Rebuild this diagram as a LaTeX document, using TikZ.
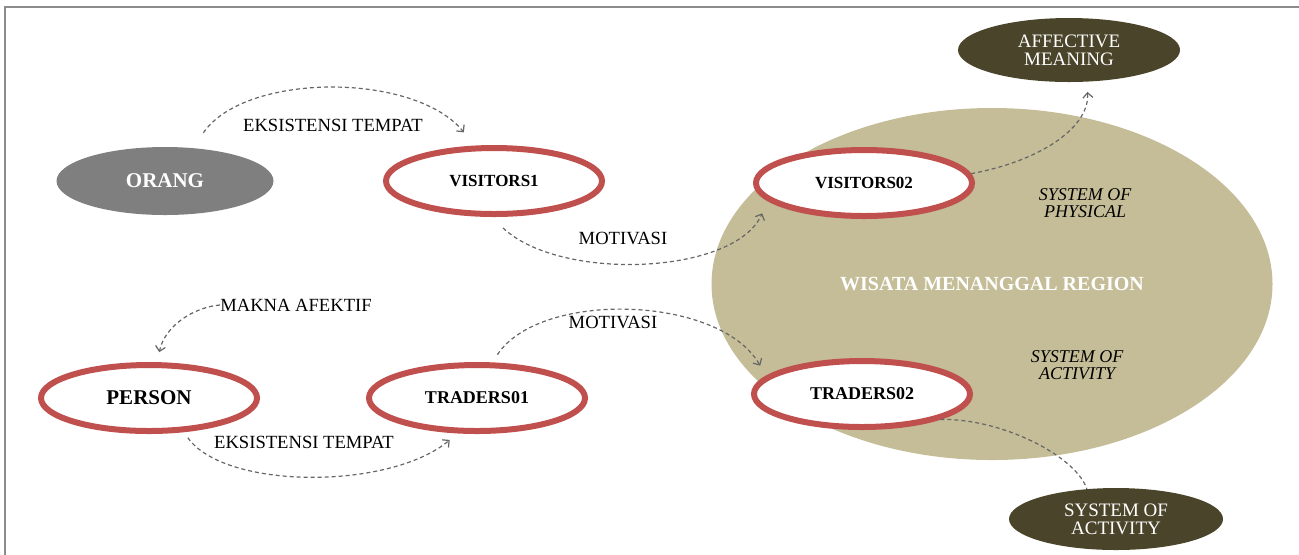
\documentclass[tikz,border=0pt]{standalone}
\usepackage{fontspec}
\setmainfont{Liberation Serif}
\usetikzlibrary{arrows.meta,shapes.geometric}
\definecolor{redline}{HTML}{C0504D}
\definecolor{tanfill}{HTML}{C4BD97}
\definecolor{darkolive}{HTML}{4A452A}
\definecolor{greyfill}{HTML}{7F7F7F}
\definecolor{conncol}{HTML}{666666}
\definecolor{framecol}{HTML}{8C8C8C}
\begin{document}
\begin{tikzpicture}[x=0.5pt,y=-0.5pt,
  redell/.style={ellipse, draw=redline, line width=3pt, fill=white, inner sep=0pt,
    minimum width=108pt, minimum height=33pt, font=\bfseries\fontsize{8.5}{9}\selectfont},
  darkell/.style={ellipse, fill=darkolive, text=white, inner sep=0pt, align=center,
    font=\fontsize{9.5}{9}\selectfont},
  conn/.style={draw=conncol, line width=0.6pt, dash pattern=on 2pt off 1.5pt},
  arr/.style={-{Straight Barb[length=2.5pt,width=5pt]}},
  lbl/.style={font=\fontsize{9.3}{9.3}\selectfont, inner sep=0pt},
  itlbl/.style={font=\itshape\fontsize{9}{8.5}\selectfont, inner sep=0pt, align=center}]
\useasboundingbox (0,0) rectangle (1299,554);
% frame
\draw[framecol, line width=1pt] (5,560) -- (5,7) -- (1305,7);
% region
\node[ellipse, fill=tanfill, minimum width=280.5pt, minimum height=176pt, inner sep=0pt,
  text=white, font=\bfseries\fontsize{10}{10}\selectfont] (region) at (992,284) {WISATA MENANGGAL REGION};
\node[itlbl] (phys) at (1085,203) {SYSTEM OF\\PHYSICAL};
\node[itlbl] (act) at (1077,365) {SYSTEM OF\\ACTIVITY};
% nodes
\node[ellipse, fill=greyfill, inner sep=0pt, minimum width=108.5pt, minimum height=34pt,
  text=white, font=\bfseries\fontsize{10.5}{10.5}\selectfont] (orang) at (165,181) {ORANG};
\node[redell] (vis1) at (494,181) {VISITORS1};
\node[redell] (vis2) at (864,183) {VISITORS02};
\node[redell, font=\bfseries\fontsize{10.5}{10.5}\selectfont] (person) at (149,398) {PERSON};
\node[redell, font=\bfseries\fontsize{9}{9}\selectfont] (trad1) at (477,398) {TRADERS01};
\node[redell, font=\bfseries\fontsize{9}{9}\selectfont] (trad2) at (862,394) {TRADERS02};
\node[darkell, minimum width=111pt, minimum height=32pt] (aff) at (1069,50) {AFFECTIVE\\MEANING};
\node[darkell, minimum width=107pt, minimum height=31pt] (soa) at (1116,519) {SYSTEM OF\\ACTIVITY};
% labels
\node[lbl] (l1) at (333,125) {EKSISTENSI TEMPAT};
\node[lbl] (l2) at (623,238) {MOTIVASI};
\node[lbl] (makna) at (296,305) {MAKNA AFEKTIF};
\node[lbl] (l4) at (304,442) {EKSISTENSI TEMPAT};
\node[lbl] (l5) at (613,322) {MOTIVASI};
% connectors
\draw[conn, arr] ([yshift=8pt]orang.40) .. controls (245,72) and (415,72) .. ([yshift=7pt]vis1.131);
\draw[conn, arr] ([yshift=-5.5pt]vis1.-76) .. controls (560,282) and (735,275) .. ([yshift=-8pt]vis2.188);
\draw[conn, arr] (vis2.5) .. controls (1045,160) and (1090,125) .. ([yshift=-5pt]aff.-60);
\draw[conn, arr] (makna.west) .. controls (195,307) and (165,325) .. ([yshift=5pt]person.74);
\draw[conn, arr] ([yshift=-3pt]person.-41) .. controls (225,490) and (390,490) .. ([yshift=-3.5pt]trad1.-128);
\draw[conn, arr] ([yshift=4pt]trad1.60) .. controls (540,290) and (720,295) .. ([yshift=7pt]trad2.172);
\draw[conn] (trad2.-18) .. controls (1000,418) and (1075,455) .. (soa.134);
\end{tikzpicture}
\end{document}
